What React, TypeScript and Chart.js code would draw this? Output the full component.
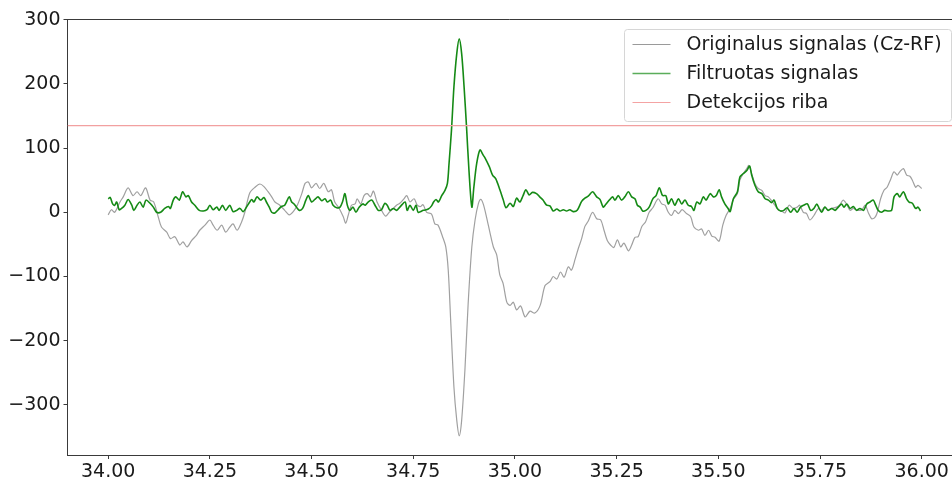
import React, { useEffect, useRef } from 'react';
import { Chart, registerables } from 'chart.js';

Chart.register(...registerables);

// ---- Data ----
const origT = [
  34.000, 34.008, 34.016, 34.029, 34.037, 34.049, 34.061, 34.071, 34.080, 34.092,
  34.103, 34.112, 34.123, 34.131, 34.144, 34.153, 34.164, 34.176, 34.184, 34.194,
  34.205, 34.217, 34.225, 34.238, 34.250, 34.258, 34.268, 34.279, 34.289, 34.299,
  34.307, 34.317, 34.328, 34.336, 34.348, 34.361, 34.373, 34.383, 34.393, 34.402,
  34.410, 34.422, 34.434, 34.445, 34.455, 34.465, 34.476, 34.484, 34.492, 34.500,
  34.511, 34.520, 34.530, 34.541, 34.549, 34.557, 34.568, 34.578, 34.584, 34.590,
  34.598, 34.607, 34.612, 34.621, 34.629, 34.637, 34.645, 34.652, 34.661, 34.672,
  34.682, 34.691, 34.701, 34.709, 34.717, 34.726, 34.734, 34.742, 34.752, 34.760,
  34.768, 34.774, 34.783, 34.795, 34.803, 34.811, 34.822, 34.830, 34.836, 34.842,
  34.850, 34.857, 34.863, 34.869, 34.877, 34.885, 34.894, 34.902, 34.910, 34.916,
  34.922, 34.930, 34.939, 34.947, 34.955, 34.963, 34.971, 34.980, 34.988, 34.996,
  35.004, 35.014, 35.025, 35.037, 35.049, 35.062, 35.074, 35.086, 35.094, 35.103,
  35.112, 35.121, 35.131, 35.139, 35.148, 35.156, 35.164, 35.172, 35.180, 35.191,
  35.201, 35.211, 35.219, 35.227, 35.235, 35.243, 35.252, 35.260, 35.268, 35.279,
  35.287, 35.295, 35.303, 35.312, 35.321, 35.330, 35.339, 35.352, 35.361, 35.369,
  35.377, 35.385, 35.393, 35.402, 35.411, 35.422, 35.432, 35.440, 35.451, 35.459,
  35.467, 35.476, 35.484, 35.492, 35.502, 35.511, 35.519, 35.529, 35.538, 35.547,
  35.553, 35.561, 35.570, 35.575, 35.582, 35.590, 35.598, 35.607, 35.615, 35.623,
  35.631, 35.639, 35.647, 35.656, 35.664, 35.674, 35.684, 35.694, 35.700, 35.709,
  35.717, 35.725, 35.735, 35.746, 35.754, 35.762, 35.770, 35.779, 35.791, 35.799,
  35.807, 35.816, 35.824, 35.832, 35.840, 35.853, 35.861, 35.869, 35.877, 35.885,
  35.891, 35.899, 35.907, 35.915, 35.924, 35.932, 35.940, 35.946, 35.955, 35.963,
  35.971, 35.977, 35.985, 35.991, 36.000,
];
const origV = [
  -4, 4, 0, 16, 24, 38, 26, 32, 26, 38,
  19, 16, -7, -23, -31, -41, -38, -51, -46, -54,
  -44, -36, -28, -20, -12, -20, -28, -20, -31, -23,
  -18, -28, -15, 0, 30, 39, 44, 40, 32, 24,
  16, 11, 3, -4, 1, 11, 29, 45, 47, 38,
  45, 37, 45, 32, 35, 16, 6, -7, -17, -5,
  11, 13, 21, 13, 26, 29, 24, 33, 16, 3,
  -6, 0, 6, 11, 14, 20, 26, 16, 21, 11,
  9, 12, 0, -3, -18, -20, -38, -54, -90, -168,
  -272, -324, -348, -324, -246, -142, -54, -12, 13, 20,
  13, -7, -33, -54, -66, -98, -111, -140, -145, -140,
  -152, -146, -163, -154, -157, -145, -114, -108, -100, -104,
  -93, -101, -85, -90, -73, -56, -41, -22, -14, 0,
  -10, -12, -28, -44, -51, -55, -43, -54, -48, -60,
  -51, -39, -38, -22, -15, 0, 7, 21, 13, 11,
  0, -5, 3, -2, 4, -2, -7, -23, -28, -26,
  -36, -28, -37, -39, -45, -20, -5, 6, 21, 29,
  50, 60, 68, 73, 60, 45, 37, 34, 26, 24,
  18, 11, 4, 2, -1, 11, 6, 8, 11, 0,
  -2, -12, -5, 6, 3, 8, 3, 6, 8, 12,
  19, 12, 3, 6, 3, 4, 11, -1, -10, -8,
  0, 21, 34, 39, 52, 63, 58, 63, 68, 58,
  56, 50, 39, 42, 37,
];

const filtT = [
  34.000, 34.005, 34.011, 34.016, 34.021, 34.027, 34.033, 34.041, 34.049, 34.058,
  34.063, 34.071, 34.078, 34.086, 34.093, 34.103, 34.111, 34.119, 34.129, 34.139,
  34.148, 34.153, 34.160, 34.166, 34.175, 34.183, 34.191, 34.197, 34.205, 34.213,
  34.224, 34.234, 34.243, 34.250, 34.258, 34.267, 34.273, 34.281, 34.289, 34.299,
  34.307, 34.316, 34.324, 34.332, 34.340, 34.348, 34.353, 34.358, 34.366, 34.375,
  34.383, 34.389, 34.396, 34.402, 34.410, 34.418, 34.426, 34.434, 34.445, 34.451,
  34.457, 34.463, 34.470, 34.478, 34.486, 34.492, 34.500, 34.508, 34.516, 34.525,
  34.533, 34.539, 34.547, 34.553, 34.562, 34.570, 34.576, 34.582, 34.588, 34.594,
  34.602, 34.609, 34.617, 34.626, 34.632, 34.639, 34.648, 34.656, 34.664, 34.672,
  34.680, 34.686, 34.693, 34.701, 34.709, 34.717, 34.730, 34.735, 34.742, 34.750,
  34.757, 34.762, 34.775, 34.787, 34.795, 34.800, 34.806, 34.812, 34.820, 34.828,
  34.834, 34.838, 34.844, 34.850, 34.857, 34.863, 34.869, 34.875, 34.881, 34.887,
  34.894, 34.899, 34.906, 34.914, 34.922, 34.927, 34.937, 34.945, 34.953, 34.963,
  34.971, 34.978, 34.988, 34.996, 35.004, 35.012, 35.020, 35.027, 35.035, 35.043,
  35.053, 35.061, 35.069, 35.078, 35.086, 35.094, 35.103, 35.111, 35.119, 35.127,
  35.135, 35.143, 35.153, 35.164, 35.172, 35.180, 35.191, 35.201, 35.209, 35.217,
  35.223, 35.232, 35.240, 35.246, 35.254, 35.262, 35.270, 35.279, 35.287, 35.295,
  35.301, 35.308, 35.314, 35.322, 35.330, 35.339, 35.347, 35.355, 35.363, 35.371,
  35.377, 35.385, 35.393, 35.402, 35.410, 35.418, 35.426, 35.434, 35.440, 35.447,
  35.455, 35.463, 35.470, 35.480, 35.488, 35.495, 35.502, 35.508, 35.516, 35.524,
  35.529, 35.537, 35.547, 35.553, 35.561, 35.570, 35.577, 35.582, 35.590, 35.598,
  35.607, 35.615, 35.623, 35.631, 35.637, 35.645, 35.653, 35.661, 35.669, 35.678,
  35.686, 35.694, 35.702, 35.710, 35.719, 35.727, 35.735, 35.742, 35.748, 35.754,
  35.762, 35.770, 35.779, 35.787, 35.795, 35.803, 35.809, 35.816, 35.824, 35.832,
  35.840, 35.848, 35.857, 35.865, 35.873, 35.881, 35.887, 35.893, 35.901, 35.909,
  35.918, 35.926, 35.932, 35.940, 35.946, 35.955, 35.963, 35.969, 35.977, 35.985,
  35.991, 35.997,
];
const filtV = [
  21, 23, 13, 11, 16, 4, 6, 11, 20, 11,
  3, 11, 16, 8, 19, 14, 8, 0, 0, 6,
  9, 6, 19, 24, 19, 32, 24, 26, 16, 11,
  3, 2, 4, 11, 4, 8, 3, 11, 3, 11,
  1, 3, 6, 1, 8, 16, 20, 16, 24, 19,
  23, 16, 8, 0, -1, 4, 9, 11, 24, 16,
  13, 8, 3, 6, 19, 26, 16, 20, 24, 18,
  21, 16, 19, 11, 7, 8, 16, 29, 11, 3,
  8, 0, 8, 13, 11, 16, 19, 11, 3, 4,
  14, 11, 3, 6, 3, 8, 16, 3, 11, 3,
  11, 0, 3, 5, 10, 16, 20, 16, 26, 34,
  45, 76, 128, 195, 247, 270, 247, 195, 133, 65,
  8, 39, 76, 97, 89, 84, 71, 58, 52, 35,
  20, 7, 14, 9, 22, 16, 26, 35, 27, 31,
  29, 24, 19, 11, 10, 2, 5, 2, 4, 2,
  4, 1, 3, 17, 22, 25, 32, 24, 20, 8,
  12, 19, 24, 19, 26, 19, 24, 32, 24, 21,
  11, 8, 2, 3, 8, 21, 26, 38, 26, 26,
  13, 21, 11, 21, 13, 19, 11, 9, 3, 16,
  13, 24, 19, 29, 24, 26, 35, 24, 13, 6,
  1, 21, 32, 55, 60, 65, 72, 58, 42, 32,
  29, 21, 19, 15, 19, 6, 2, 3, 7, 0,
  6, 0, 8, 11, 13, 3, 6, 13, 6, 0,
  8, 3, 6, 3, 8, 13, 8, 13, 6, 9,
  3, 6, 3, 13, 16, 19, 11, 3, 0, 3,
  2, 3, 24, 29, 24, 32, 21, 16, 14, 6,
  8, 2,
];

const thresholdValue = 135;

const seriesLabels = ['Originalus signalas (Cz-RF)', 'Filtruotas signalas', 'Detekcijos riba'];
const xTicks = [34.0, 34.25, 34.5, 34.75, 35.0, 35.25, 35.5, 35.75, 36.0];
const yTicks = [-300, -200, -100, 0, 100, 200, 300];

const X_MIN = 33.9;
const X_MAX = 36.0745;
const Y_MIN = -378;
const Y_MAX = 301;

const FONT = "'DejaVu Sans', sans-serif";
const FONT_SIZE = 19;
const TEXT = '#1a1a1a';
const AXIS = '#3a3a3a';

const legendColors = ['#9a9a9a', '#5aad5a', '#f4a3a3'];

const mplPlugin = {
  id: 'mplDecor',
  afterDraw(chart: any) {
    const ctx = chart.ctx;
    const { left, top, right } = chart.chartArea;
    ctx.save();
    // top spine
    ctx.strokeStyle = AXIS;
    ctx.lineWidth = 1;
    ctx.beginPath();
    ctx.moveTo(left, Math.round(top) + 0.5);
    ctx.lineTo(right, Math.round(top) + 0.5);
    ctx.stroke();

    // legend box (matplotlib style, upper right inside axes)
    const bw = 327;
    const bh = 92;
    const bx = right - bw - 0.5;
    const by = top + 10.5;
    const r = 3;
    ctx.beginPath();
    ctx.moveTo(bx + r, by);
    ctx.lineTo(bx + bw - r, by);
    ctx.quadraticCurveTo(bx + bw, by, bx + bw, by + r);
    ctx.lineTo(bx + bw, by + bh - r);
    ctx.quadraticCurveTo(bx + bw, by + bh, bx + bw - r, by + bh);
    ctx.lineTo(bx + r, by + bh);
    ctx.quadraticCurveTo(bx, by + bh, bx, by + bh - r);
    ctx.lineTo(bx, by + r);
    ctx.quadraticCurveTo(bx, by, bx + r, by);
    ctx.closePath();
    ctx.fillStyle = 'rgba(255,255,255,0.8)';
    ctx.fill();
    ctx.strokeStyle = '#d6d6d6';
    ctx.lineWidth = 1;
    ctx.stroke();

    chart.data.datasets.forEach((ds: any, i: number) => {
      const y = by + 15 + i * 29;
      ctx.strokeStyle = legendColors[i];
      ctx.lineWidth = ds.borderWidth;
      ctx.beginPath();
      ctx.moveTo(bx + 8, y);
      ctx.lineTo(bx + 46, y);
      ctx.stroke();
      ctx.fillStyle = TEXT;
      ctx.font = `${FONT_SIZE}px ${FONT}`;
      ctx.textBaseline = 'middle';
      ctx.textAlign = 'left';
      ctx.fillText(ds.label, bx + 62, y + 1);
    });
    ctx.restore();
  },
};

export default function App() {
  const ref = useRef<HTMLCanvasElement | null>(null);

  useEffect(() => {
    if (!ref.current) return;
    const origData = origT.map((t, i) => ({ x: t, y: origV[i] }));
    const filtData = filtT.map((t, i) => ({ x: t, y: filtV[i] }));
    const threshData = [
      { x: X_MIN, y: thresholdValue },
      { x: X_MAX, y: thresholdValue },
    ];

    const chart = new Chart(ref.current, {
      type: 'line',
      data: {
        datasets: [
          {
            label: seriesLabels[0],
            data: origData,
            borderColor: '#a0a0a0',
            borderWidth: 1.2,
            pointRadius: 0,
            tension: 0.3,
            fill: false,
            order: 3,
          },
          {
            label: seriesLabels[1],
            data: filtData,
            borderColor: '#158a15',
            borderWidth: 1.6,
            pointRadius: 0,
            tension: 0.3,
            fill: false,
            order: 2,
          },
          {
            label: seriesLabels[2],
            data: threshData,
            borderColor: '#f2a0a0',
            borderWidth: 1.2,
            pointRadius: 0,
            fill: false,
            order: 1,
          },
        ],
      },
      options: {
        responsive: false,
        animation: false,
        devicePixelRatio: 1,
        layout: { padding: { top: 19, left: 0, right: 0, bottom: 0 } },
        plugins: {
          legend: { display: false },
          tooltip: { enabled: false },
          title: { display: false },
        },
        scales: {
          x: {
            type: 'linear',
            min: X_MIN,
            max: X_MAX,
            afterBuildTicks: (axis: any) => {
              axis.ticks = xTicks.map((v) => ({ value: v }));
            },
            afterFit: (s: any) => {
              s.height = 22;
            },
            ticks: {
              autoSkip: false,
              maxRotation: 0,
              padding: 2,
              color: TEXT,
              font: { family: FONT, size: FONT_SIZE },
              callback: (v: any) => Number(v).toFixed(2),
            },
            grid: {
              drawOnChartArea: false,
              drawTicks: true,
              tickLength: 4,
              color: AXIS,
              lineWidth: 1,
            },
            border: { display: true, color: AXIS, width: 1 },
          },
          y: {
            type: 'linear',
            min: Y_MIN,
            max: Y_MAX,
            afterBuildTicks: (axis: any) => {
              axis.ticks = yTicks.map((v) => ({ value: v }));
            },
            afterFit: (s: any) => {
              s.width = 67.5;
            },
            ticks: {
              padding: 3,
              color: TEXT,
              font: { family: FONT, size: FONT_SIZE },
              callback: (v: any) => (Number(v) < 0 ? '\u2212' + Math.abs(Number(v)) : String(v)),
            },
            grid: {
              drawOnChartArea: false,
              drawTicks: true,
              tickLength: 4,
              color: AXIS,
              lineWidth: 1,
            },
            border: { display: true, color: AXIS, width: 1 },
          },
        },
      },
      plugins: [mplPlugin],
    });

    return () => chart.destroy();
  }, []);

  return (
    <div style={{ position: 'fixed', left: 0, top: 0, width: 952, height: 477, background: '#fff' }}>
      <canvas ref={ref} width={952} height={477} style={{ display: 'block' }} />
    </div>
  );
}
